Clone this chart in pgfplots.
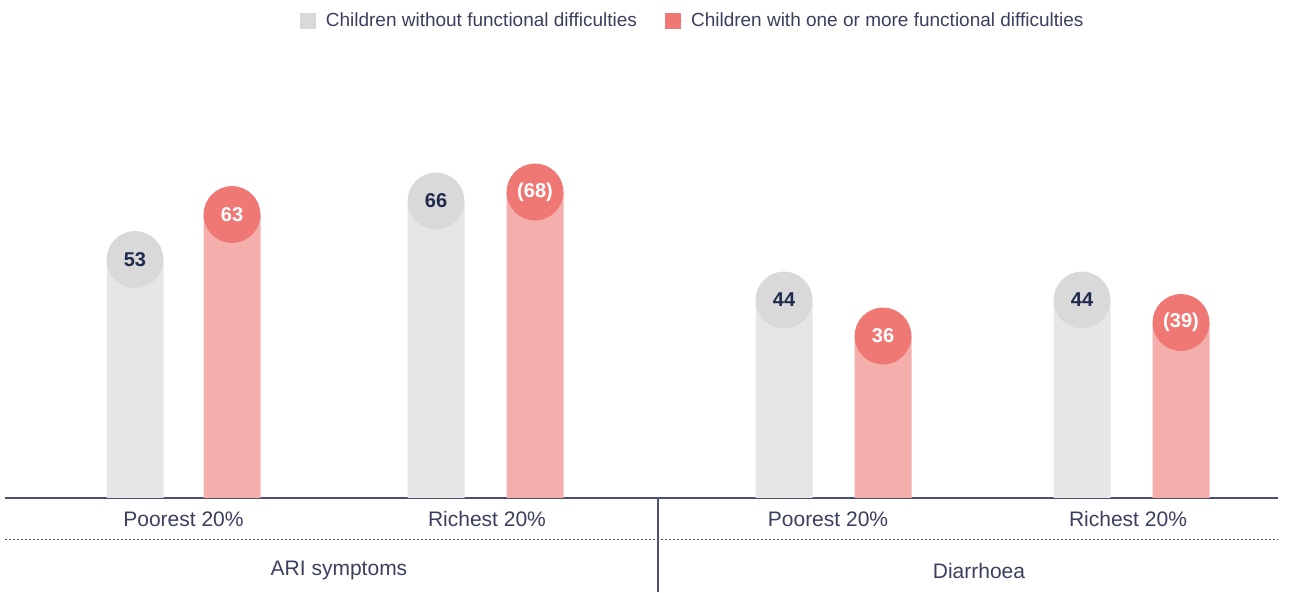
\documentclass[border=0pt]{standalone}
\usepackage{pgfplots}
\pgfplotsset{compat=1.18}
\usepackage{fontspec}
\setmainfont{Liberation Sans}
\definecolor{gbar}{HTML}{E6E6E6}
\definecolor{gcirc}{HTML}{D9D9D9}
\definecolor{rbar}{HTML}{F4AEAC}
\definecolor{rcirc}{HTML}{EF7874}
\definecolor{txt}{HTML}{3B3F5E}
\definecolor{val}{HTML}{1F2A4D}
\definecolor{axcol}{HTML}{4B5072}
\begin{document}
\begin{tikzpicture}
\begin{axis}[
  scale only axis,
  width=636.5pt, height=249pt,
  xmin=5, xmax=1278, ymin=0, ymax=110.67,
  axis x line=bottom, axis y line=none,
  axis line style={-, color=axcol, line width=0.6pt},
  xtick=\empty, ytick=\empty,
  clip=false,
  legend style={draw=none, fill=none, at={(0.541,0.958)}, anchor=center,
    legend columns=2, font=\fontsize{9.5}{11}\selectfont\color{txt},
    /tikz/every even column/.append style={column sep=12pt}},
  legend image code/.code={\fill[#1, draw=none] (0pt,-4pt) rectangle (8pt,4pt);
     \path (8pt,0pt) -- (11pt,0pt);},
]
% bars
\addplot[ybar, bar width=28.5pt, bar shift=0pt, fill=gbar, draw=none, forget plot]
  coordinates {(135,53) (436,66) (784,44) (1082,44)};
\addplot[ybar, bar width=28.5pt, bar shift=0pt, fill=rbar, draw=none, forget plot]
  coordinates {(232,63) (535,68) (883,36) (1181,39)};
% circles with labels
\addplot[only marks, mark=*, mark size=14pt, color=gcirc, forget plot,
  point meta=explicit symbolic, nodes near coords,
  every node near coord/.append style={anchor=center, font=\bfseries\fontsize{10}{12}\selectfont, text=val}]
  table[meta=lab] {
x y lab
135 53 53
436 66 66
784 44 44
1082 44 44
};
\addplot[only marks, mark=*, mark size=14pt, color=rcirc, forget plot,
  point meta=explicit symbolic, nodes near coords,
  every node near coord/.append style={anchor=center, font=\bfseries\fontsize{10}{12}\selectfont, text=white}]
  table[meta=lab] {
x y lab
232 63 63
535 68 (68)
883 36 36
1181 39 (39)
};
\addlegendimage{fill=gcirc, draw=none}
\addlegendentry{Children without functional difficulties}
\addlegendimage{fill=rcirc, draw=none}
\addlegendentry{Children with one or more functional difficulties}
% lower labels
\begin{scope}[every node/.style={font=\fontsize{10.5}{12}\selectfont, text=txt}]
\node at (axis cs:183.5,-4.67) {Poorest 20\%};
\node at (axis cs:487,-4.67) {Richest 20\%};
\node at (axis cs:828,-4.67) {Poorest 20\%};
\node at (axis cs:1128,-4.67) {Richest 20\%};
\node at (axis cs:339,-16.2) {ARI symptoms};
\node at (axis cs:979,-16.2) {Diarrhoea};
\end{scope}
\draw[axcol, dash pattern=on 1pt off 1pt, line width=0.5pt] (axis cs:5,-9.33) -- (axis cs:1278,-9.33);
\draw[axcol, line width=0.6pt] (axis cs:658,0) -- (axis cs:658,-20.89);
\path (axis cs:0,-20.89) rectangle (axis cs:1310,110.67);
\end{axis}
\end{tikzpicture}
\end{document}
